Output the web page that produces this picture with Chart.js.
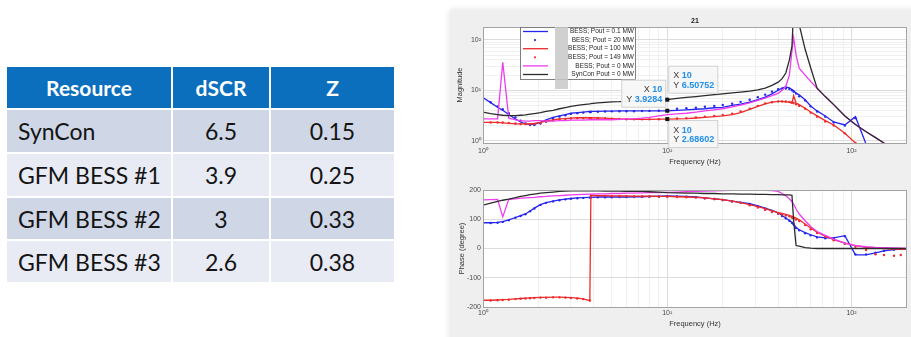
<!DOCTYPE html>
<html>
<head>
<meta charset="utf-8">
<script src="https://cdn.jsdelivr.net/npm/chart.js@4.4.0/dist/chart.umd.min.js"></script>
<style>
  html, body { margin: 0; padding: 0; width: 911px; height: 337px; overflow: hidden; background: #fff; }
  #tbl { position: absolute; left: 5px; top: 65px; border-collapse: separate; border-spacing: 2px;
         table-layout: fixed; width: 391px; font-family: Lato, 'Open Sans', sans-serif; font-size: 23px; color: #141414; }
  #tbl th { background: #0b6fbe; color: #fff; font-weight: 700; font-size: 21px; padding: 0; text-align: center; }
  #tbl td { padding: 0; text-align: center; }
  #tbl td:first-child { text-align: left; padding-left: 11px; }
  #tbl tr.odd td { background: #cfd7e7; }
  #tbl tr.even td { background: #e8ebf4; }
  #panel { position: absolute; left: 450px; top: 10px; width: 470px; height: 340px; background: #efefef;
           box-shadow: 0 0 7px rgba(0,0,0,0.13); }
  canvas { position: absolute; left: 451px; }
  #mag { top: 10px; }
  #phase { top: 170px; }
</style>
</head>
<body>
<table id="tbl">
  <colgroup><col style="width:164px"><col style="width:96px"><col style="width:123px"></colgroup>
  <thead><tr style="height:41px"><th>Resource</th><th>dSCR</th><th>Z</th></tr></thead>
  <tbody></tbody>
</table>
<div id="panel"></div>
<canvas id="mag" width="460" height="160"></canvas>
<canvas id="phase" width="460" height="167"></canvas>
<script>
// table
const resources = ['SynCon', 'GFM BESS #1', 'GFM BESS #2', 'GFM BESS #3'];
const dscr = ['6.5', '3.9', '3', '2.6'];
const zValues = ['0.15', '0.25', '0.33', '0.38'];

// frequency response, Hz
const freq = [1, 1.1, 1.2, 1.28, 1.38, 1.5, 1.6, 1.7, 1.8, 1.9,
  2.05, 2.2, 2.4, 2.6, 2.8, 3, 3.25, 3.5, 3.8, 3.85,
  4.2, 4.6, 5, 5.5, 6, 6.6, 7.3, 8, 9, 10,
  11.3, 12.7, 14.3, 16, 18, 20, 22.5, 25, 28, 31,
  34, 37, 40, 42, 44, 46, 47.5, 48.5, 50, 52,
  56, 60, 65, 72, 80, 92, 105, 120, 135, 150,
  170, 185, 200];

// magnitude
const mag01 = [7.2, 5.7, 4.6, 4.0, 3.3, 2.7, 2.35, 2.15, 2.1, 2.1,
  2.3, 2.6, 2.9, 3.1, 3.3, 3.5, 3.6, 3.7, 3.8, 3.8,
  3.82, 3.85, 3.87, 3.9, 3.9, 3.9, 3.9, 3.9, 3.92, 3.93,
  4.0, 4.1, 4.2, 4.3, 4.5, 4.6, 5.0, 5.3, 5.8, 6.5,
  7.3, 8.5, 10, 11, 11.6, 11.2, 10.4, 9.8, 8.8, 8.1,
  6.5, 4.9, 3.9, 3.1, 2.35, 2.05, 3.0, 0.85, 0.5, 0.35,
  0.25, 0.2, 0.15];
const mag20 = [7.0, 5.8, 4.8, 4.2, 3.5, 2.9, 2.5, 2.2, 2.05, 2.05,
  2.2, 2.4, 2.75, 3.0, 3.2, 3.4, 3.5, 3.6, 3.7, 3.7,
  3.75, 3.8, 3.82, 3.85, 3.85, 3.85, 3.87, 3.9, 3.92, 3.95,
  4.3, 4.4, 4.5, 4.7, 4.9, 5.1, 5.4, 5.9, 6.5, 7.3,
  8.2, 9.4, 10.5, 10.8, 10.8, 10.6, 10.0, 9.4, 8.6, 7.6,
  6.3, 4.8, 3.8, 3.0, 2.3, 2.0, 2.8, 0.85, 0.5, 0.35,
  0.25, 0.2, 0.15];
const mag100 = [2.3, 2.3, 2.3, 2.25, 2.2, 2.15, 2.15, 2.15, 2.15, 2.2,
  2.3, 2.45, 2.6, 2.7, 2.75, 2.8, 2.85, 2.85, 2.85, 2.85,
  2.82, 2.8, 2.75, 2.7, 2.68, 2.66, 2.65, 2.65, 2.67, 2.69,
  2.72, 2.75, 2.82, 2.9, 3.0, 3.1, 3.3, 3.6, 4.2, 4.8,
  5.4, 5.8, 6.0, 6.0, 5.9, 5.8, 5.5, 7.8, 5.6, 5.2,
  4.4, 3.7, 3.1, 2.5, 2.05, 1.4, 0.9, 0.6, 0.45, 0.35,
  0.25, 0.2, 0.15];
const mag149 = [2.3, 2.3, 2.3, 2.3, 2.25, 2.2, 2.15, 2.15, 2.12, 2.15,
  2.25, 2.4, 2.55, 2.65, 2.7, 2.75, 2.8, 2.8, 2.8, 2.8,
  2.78, 2.75, 2.72, 2.7, 2.67, 2.65, 2.65, 2.65, 2.67, 2.69,
  2.75, 2.8, 2.9, 3.0, 3.1, 3.25, 3.45, 3.8, 4.3, 4.9,
  5.5, 5.8, 6.0, 6.0, 6.0, 5.9, 5.8, 5.6, 5.3, 4.9,
  4.3, 3.6, 3.0, 2.4, 2.0, 1.4, 0.9, 0.6, 0.45, 0.35,
  0.25, 0.2, 0.15];
const mag0 = [2.7, 2.7, 2.7, 36, 2.8, 2.6, 2.5, 2.45, 2.45, 2.5,
  2.5, 2.45, 2.45, 2.5, 2.5, 2.55, 2.55, 2.55, 2.6, 2.6,
  2.6, 2.6, 2.6, 2.65, 2.7, 2.72, 2.8, 2.9, 3.1, 3.3,
  3.4, 3.5, 3.7, 3.9, 4.1, 4.3, 4.7, 5.1, 5.6, 6.3,
  7.0, 7.8, 8.7, 10, 12, 20, 60, 110, 50, 27.5,
  20, 15, 11, 7.5, 5.2, 3.1, 2.1, 1.5, 1.15, 0.9,
  0.7, 0.55, 0.45];
const magSyn = [3.7, 3.45, 3.3, 3.2, 3.15, 3.15, 3.2, 3.25, 3.35, 3.45,
  3.6, 3.8, 4.0, 4.3, 4.55, 4.8, 5.0, 5.2, 5.4, 5.45,
  5.6, 5.75, 5.9, 5.95, 6.05, 6.15, 6.2, 6.3, 6.4, 6.5,
  6.9, 7.2, 7.5, 7.8, 8.2, 8.5, 8.9, 9.2, 9.6, 10.2,
  11, 12.5, 14.5, 17, 22, 40, 75, 400, 400, 200,
  65, 28, 11, 7.5, 5.2, 3.1, 2.1, 1.5, 1.15, 0.9,
  0.7, 0.55, 0.45];

// phase, degrees
const ph01 = [88, 88, 89, 92, 98, 106, 112, 118, 128, 138,
  150, 157, 162, 166, 169, 171, 173, 174, 175, 175,
  176, 176, 176, 176, 176, 177, 177, 178, 179, 180,
  179, 178, 176, 173, 170, 167, 162, 158, 153, 146,
  138, 130, 122, 113, 104, 96, 89, 83, 72, 64,
  54, 47, 40, 36, 36, 44, -22, -22, -15, -8,
  -4, -2, -2];
const ph20 = [87, 87, 88, 91, 97, 105, 111, 117, 127, 137,
  149, 156, 161, 165, 168, 170, 172, 173, 174, 174,
  175, 175, 175, 176, 176, 176, 177, 177, 177, 178,
  178, 177, 175, 172, 169, 166, 161, 157, 152, 145,
  136, 128, 120, 111, 103, 95, 88, 82, 70, 62,
  52, 45, 38, 35, 35, 42, -20, -20, -14, -8,
  -4, -2, -2];
const ph100 = [-177, -177, -176, -175, -174, -172, -171, -170, -169, -168,
  -167, -167, -166, -166, -167, -168, -170, -172, -178, 182,
  181, 181, 180, 180, 180, 179, 179, 179, 178, 178,
  177, 176, 175, 173, 170, 167, 162, 157, 150, 143,
  136, 129, 123, 120, 117, 113, 110, 108, 104, 98,
  84, 70, 56, 42, 30, 18, 10, 4, 2, 0,
  -2, -3, -3];
const ph149 = [-178, -178, -177, -176, -175, -173, -172, -171, -170, -169,
  -168, -168, -167, -167, -168, -169, -171, -173, -178, 181,
  180, 180, 179, 179, 179, 178, 178, 178, 177, 177,
  176, 175, 174, 172, 169, 166, 161, 156, 148, 140,
  132, 125, 119, 116, 113, 110, 106, 103, 99, 94,
  80, 66, 53, 40, 28, 16, 6, -5, -20, -22,
  -25, -22, -80];
const ph0 = [166, 167, 168, 108, 168, 170, 172, 173, 174, 175,
  177, 178, 180, 181, 182, 183, 184, 185, 186, 186,
  187, 187, 188, 188, 189, 189, 190, 191, 191, 192,
  193, 194, 195, 196, 197, 198, 199, 199, 200, 200,
  199, 198, 195, 188, 180, 170, 160, 152, 135, 118,
  95, 75, 58, 45, 32, 18, 10, 6, 4, 3,
  2, 1, 0];
const phSyn = [148, 155, 161, 165, 169, 174, 178, 181, 184, 186,
  189, 191, 193, 195, 196, 197, 197, 197, 197, 197,
  197, 196, 196, 196, 195, 195, 195, 194, 193, 191,
  190, 189, 189, 188, 188, 187, 187, 186, 186, 185,
  185, 184, 184, 183, 183, 183, 182, 96, 10, 8,
  3, 1, 0, 0, 0, 0, 0, 0, 0, 0,
  0, 0, 0];

const seriesNames = ['BESS; Pout = 0.1 MW', 'BESS; Pout = 20 MW', 'BESS; Pout = 100 MW',
  'BESS; Pout = 149 MW', 'BESS; Pout = 0 MW', 'SynCon Pout = 0 MW'];

// data tips on the magnitude plot
const tipFreq = [10, 10, 10];
const tipMag = [3.9284, 6.50752, 2.68602];
const tipText = ['3.9284', '6.50752', '2.68602'];

// build table body
const tbody = document.querySelector('#tbl tbody');
const rowHeights = [42, 42, 41, 41];
resources.forEach((r, i) => {
  const tr = document.createElement('tr');
  tr.className = i % 2 ? 'even' : 'odd';
  tr.style.height = rowHeights[i] + 'px';
  [r, dscr[i], zValues[i]].forEach(t => {
    const td = document.createElement('td');
    td.textContent = t;
    tr.appendChild(td);
  });
  tbody.appendChild(tr);
});

Chart.defaults.font.family = "'Liberation Sans', Arial, sans-serif";
Chart.defaults.devicePixelRatio = 1;

const colors = ['#2626ee', '#2626ee', '#ee2a2a', '#ee2a2a', '#ee3cee', '#2b2b2b'];
const dotted = [false, true, false, true, false, false];
const sup = { '-1': '\u207B\u00B9', 0: '\u2070', 1: '\u00B9', 2: '\u00B2', 3: '\u00B3' };

function isPow10(v) {
  const e = Math.log10(v);
  return Math.abs(e - Math.round(e)) < 1e-6;
}
function logLabel(v) {
  return isPow10(v) ? '10' + sup[Math.round(Math.log10(v))] : '';
}
function decadeTicks(lo, hi) {
  const out = [];
  for (let e = -1; e <= 3; e++) {
    for (let m = 1; m <= 9; m++) {
      const v = +(m * Math.pow(10, e)).toPrecision(6);
      if (v >= lo && v <= hi) out.push({ value: v });
    }
  }
  return out;
}

function makeSets(lists) {
  return lists.map((vals, i) => ({
    label: seriesNames[i],
    data: freq.map((f, k) => ({ x: f, y: vals[k] })),
    borderColor: colors[i],
    backgroundColor: colors[i],
    borderWidth: 1.3,
    showLine: !dotted[i],
    pointRadius: dotted[i] ? 1.2 : 0,
    pointBorderWidth: 0,
    tension: 0,
    order: 6 - i
  }));
}

function xAxis(height, tickPad, titlePad) {
  return {
    type: 'logarithmic', min: 1, max: 200, bounds: 'data',
    afterBuildTicks: s => { s.ticks = decadeTicks(1, 200); },
    afterFit: s => { s.height = height; },
    ticks: { callback: logLabel, autoSkip: false, maxRotation: 0, padding: tickPad, color: '#4a4a4a', font: { size: 7 } },
    grid: { color: c => (c.tick && isPow10(c.tick.value)) ? '#dcdcdc' : '#f0f0f0', drawTicks: false },
    border: { display: false },
    title: { display: true, text: 'Frequency (Hz)', color: '#333', font: { size: 7.5 }, padding: { top: 0, bottom: titlePad } }
  };
}

const frame = {
  id: 'frame',
  beforeDraw(chart) {
    const a = chart.chartArea, ctx = chart.ctx;
    ctx.save();
    ctx.fillStyle = '#ffffff';
    ctx.fillRect(a.left, a.top, a.right - a.left, a.bottom - a.top);
    ctx.restore();
  },
  afterDatasetsDraw(chart) {
    const a = chart.chartArea, ctx = chart.ctx;
    ctx.save();
    ctx.strokeStyle = '#a3a3a3';
    ctx.lineWidth = 1;
    ctx.strokeRect(Math.round(a.left) + 0.5, Math.round(a.top) + 0.5, Math.round(a.right - a.left) - 1, Math.round(a.bottom - a.top));
    ctx.restore();
  }
};

// MATLAB style legend, title and data tips for the magnitude axes
const magExtras = {
  id: 'magExtras',
  afterDraw(chart) {
    const ctx = chart.ctx, a = chart.chartArea;
    const xs = chart.scales.x, ys = chart.scales.y;
    ctx.save();

    ctx.fillStyle = '#222';
    ctx.font = "bold 7px 'Liberation Sans', Arial";
    ctx.textAlign = 'center';
    ctx.textBaseline = 'middle';
    ctx.fillText('21', (a.left + a.right) / 2, a.top - 6);

    // legend
    const lx = a.left + 37, ly = a.top, lw = 115, lh = 52;
    ctx.fillStyle = '#fff';
    ctx.fillRect(lx, ly, lw, lh);
    ctx.strokeStyle = '#606060';
    ctx.lineWidth = 0.8;
    ctx.strokeRect(lx + 0.5, ly + 0.5, lw, lh);
    ctx.fillStyle = 'rgba(200,200,200,0.85)';
    ctx.fillRect(lx + 35, ly, 13, 62);
    ctx.font = "6.5px 'Liberation Sans', Arial";
    ctx.textAlign = 'right';
    seriesNames.forEach((name, i) => {
      const yy = ly + 4.5 + i * 8.6;
      ctx.strokeStyle = colors[i];
      ctx.fillStyle = colors[i];
      if (dotted[i]) {
        ctx.beginPath(); ctx.arc(lx + 15, yy, 1.1, 0, Math.PI * 2); ctx.fill();
      } else {
        ctx.lineWidth = 1.3;
        ctx.beginPath(); ctx.moveTo(lx + 3, yy); ctx.lineTo(lx + 28, yy); ctx.stroke();
      }
      ctx.fillStyle = '#262626';
      ctx.fillText(name, lx + lw - 1, yy);
    });

    // data tips
    const sides = ['left-up', 'right-up', 'right-down'];
    tipMag.forEach((v, i) => {
      const px = xs.getPixelForValue(tipFreq[i]);
      const py = ys.getPixelForValue(v);
      const lines = [['X ', String(tipFreq[i])], ['Y ', tipText[i]]];
      const widths = lines.map(([k, val]) => {
        ctx.font = "9px 'Liberation Sans', Arial";
        const w1 = ctx.measureText(k).width;
        ctx.font = "bold 9px 'Liberation Sans', Arial";
        return [w1, ctx.measureText(val).width];
      });
      const w = Math.max(...widths.map(p => p[0] + p[1])) + 9, h = 28;
      let bx, by;
      if (sides[i] === 'left-up') { bx = px - 1 - w; by = py - 3 - h; }
      else if (sides[i] === 'right-up') { bx = px + 1; by = py - 6 - h; }
      else { bx = px + 1; by = py + 1; }
      ctx.fillStyle = 'rgba(247,247,247,0.96)';
      ctx.fillRect(bx, by, w, h);
      ctx.strokeStyle = '#d2d2d2';
      ctx.lineWidth = 1;
      ctx.strokeRect(bx + 0.5, by + 0.5, w - 1, h - 1);
      lines.forEach(([k, val], j) => {
        const tw = widths[j][0] + widths[j][1];
        const tx = sides[i] === 'left-up' ? bx + w - 4 - tw : bx + 5;
        const ty = by + 10 + j * 9.5;
        ctx.textAlign = 'left';
        ctx.font = "9px 'Liberation Sans', Arial";
        ctx.fillStyle = '#3c3c3c';
        ctx.fillText(k, tx, ty);
        ctx.font = "bold 9px 'Liberation Sans', Arial";
        ctx.fillStyle = '#2390e8';
        ctx.fillText(val, tx + widths[j][0], ty);
      });
      ctx.fillStyle = '#111';
      ctx.fillRect(px - 2, py - 2, 4, 4);
    });
    ctx.restore();
  }
};

const common = {
  responsive: false,
  animation: false,
  events: [],
  plugins: { legend: { display: false }, tooltip: { enabled: false } }
};

new Chart(document.getElementById('mag'), {
  type: 'line',
  data: { datasets: makeSets([mag01, mag20, mag100, mag149, mag0, magSyn]) },
  options: {
    ...common,
    layout: { padding: { left: 0, right: 1, top: 17, bottom: 0 } },
    scales: {
      x: xAxis(27, 4, 4),
      y: {
        type: 'logarithmic', min: 0.9, max: 180, bounds: 'data',
        afterBuildTicks: s => { s.ticks = decadeTicks(0.9, 180); },
        afterFit: s => { s.width = 32; },
        ticks: { callback: logLabel, autoSkip: false, padding: 2, color: '#4a4a4a', font: { size: 7 } },
        grid: { color: c => (c.tick && isPow10(c.tick.value)) ? '#dcdcdc' : '#f0f0f0', drawTicks: false },
        border: { display: false },
        title: { display: true, text: 'Magnitude', color: '#333', font: { size: 7.5 }, padding: { top: 4.5, bottom: 0 } }
      }
    }
  },
  plugins: [frame, magExtras]
});

new Chart(document.getElementById('phase'), {
  type: 'line',
  data: { datasets: makeSets([ph01, ph20, ph100, ph149, ph0, phSyn]) },
  options: {
    ...common,
    layout: { padding: { left: 0, right: 1, top: 20, bottom: 0 } },
    scales: {
      x: xAxis(30, 2, 8.5),
      y: {
        type: 'linear', min: -200, max: 200,
        afterFit: s => { s.width = 32; },
        ticks: { stepSize: 100, padding: 2, color: '#4a4a4a', font: { size: 7 } },
        grid: { color: '#dcdcdc', drawTicks: false },
        border: { display: false },
        title: { display: true, text: 'Phase (degree)', color: '#333', font: { size: 7.5 }, padding: { top: 6, bottom: 0 } }
      }
    }
  },
  plugins: [frame]
});
</script>
</body>
</html>
